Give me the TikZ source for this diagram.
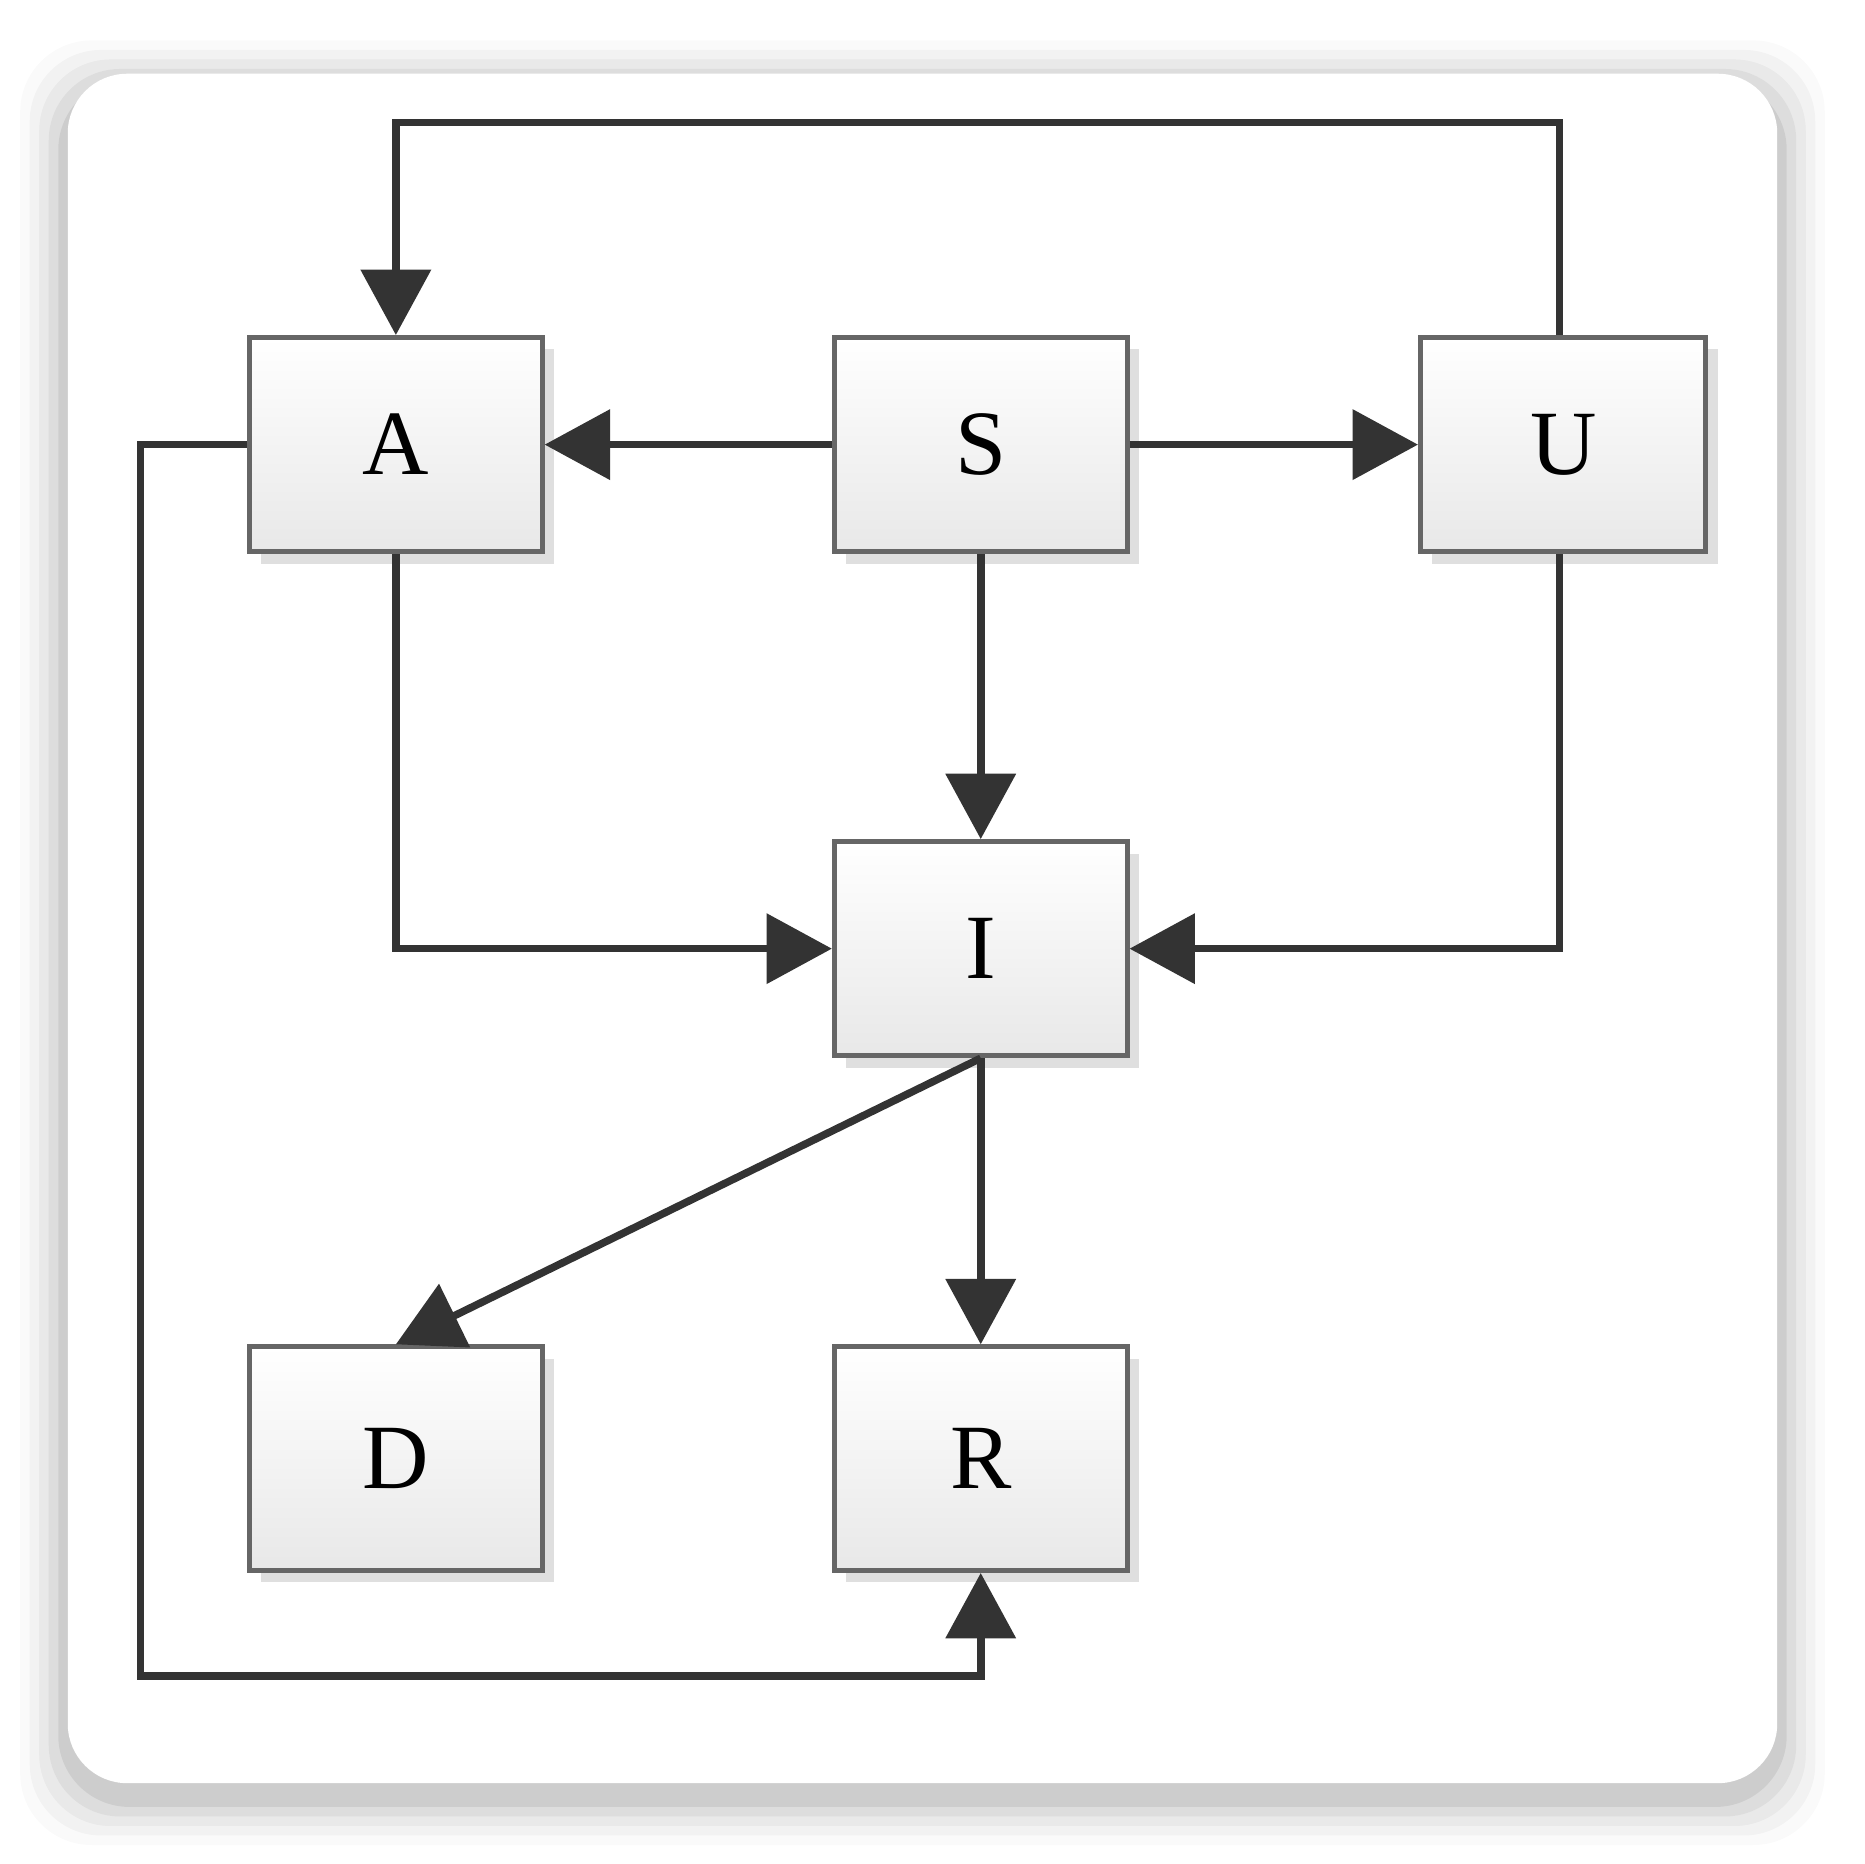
\documentclass[tikz,border=0pt]{standalone}
\usepackage{fontspec}
\setmainfont{Liberation Serif}
\usetikzlibrary{arrows.meta,shadows}
\begin{document}
\begin{tikzpicture}[x=0.01cm,y=-0.01cm,
  box/.style={draw=gray!80!black,line width=1.2pt,minimum width=2.46cm,minimum height=1.8cm,
    top color=white,bottom color=gray!18,font=\fontsize{22}{24}\selectfont,
    drop shadow={shadow xshift=0.1cm,shadow yshift=-0.1cm,opacity=0.25}},
  conn/.style={draw=black!80,line width=1.8pt,-{Triangle[length=0.55cm,width=0.58cm]}}]
\useasboundingbox (0,0) rectangle (1568,1568);
\foreach \i/\o in {40/0.02,32/0.03,24/0.04,16/0.05,8/0.07}{
  \fill[black,opacity=\o,rounded corners=0.6cm] (57-\i,62-\i+12) rectangle (1495+\i,1500+\i+12);}
\fill[white,rounded corners=0.5cm] (57,62) rectangle (1495,1500);
\node[box] (A) at (333,374) {A};
\node[box] (S) at (825,374) {S};
\node[box,minimum width=2.4cm] (U) at (1315,374) {U};
\node[box] (I) at (825,798) {I};
\node[box,minimum height=1.88cm] (D) at (333,1227) {D};
\node[box,minimum height=1.88cm] (R) at (825,1227) {R};
\draw[conn] (S.west) -- (A.east);
\draw[conn] (S.east) -- (U.west);
\draw[conn] (S.south) -- (I.north);
\draw[conn] (U.north -| 1312,0) -- (1312,103) -| (A.north);
\draw[conn] (A.south) |- (I.west);
\draw[conn] (U.south -| 1312,0) |- (I.east);
\draw[conn] (I.south) -- (D.north);
\draw[conn] (I.south) -- (R.north);
\draw[conn] (A.west) -- (118,374) |- (825,1410) -- (R.south);
\end{tikzpicture}
\end{document}
